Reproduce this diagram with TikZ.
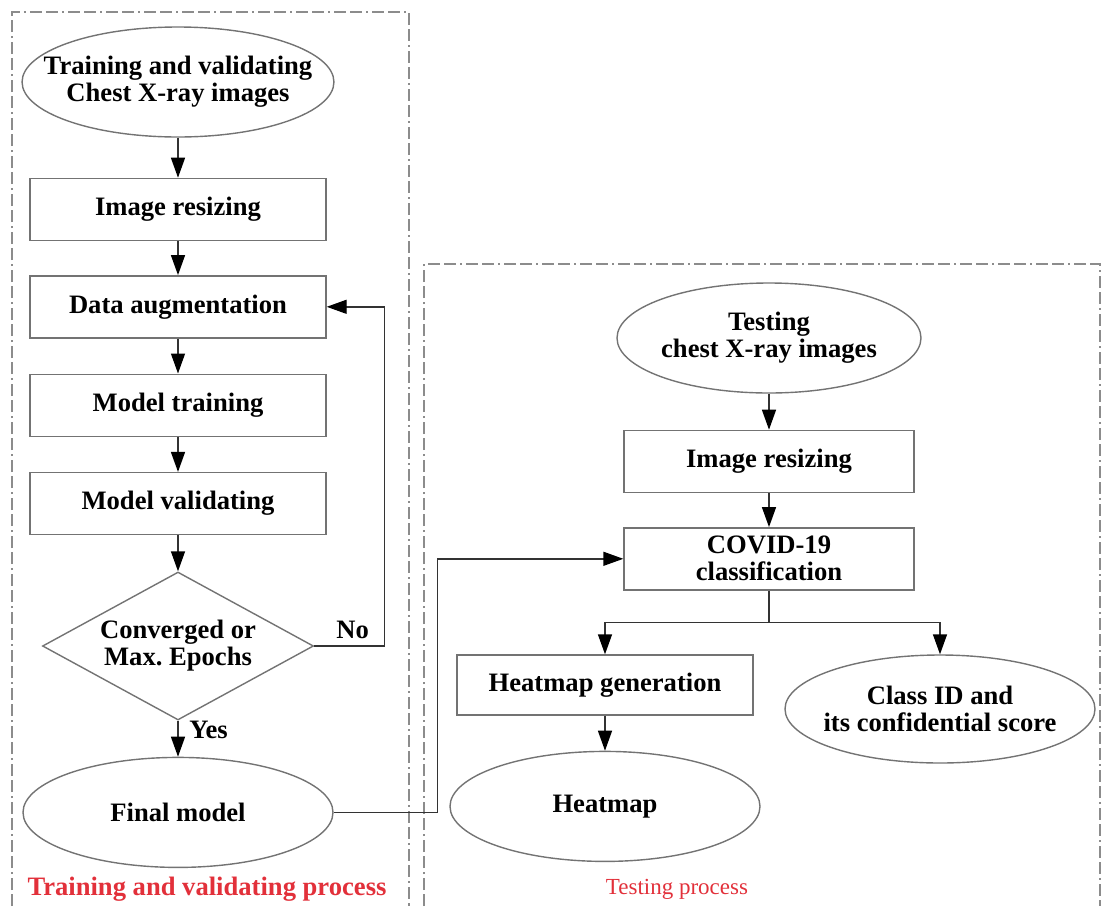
\documentclass[tikz,border=0pt]{standalone}
\usepackage{fontspec}
\setmainfont{Liberation Serif}
\usetikzlibrary{arrows.meta, positioning}
\usetikzlibrary{shapes.geometric}
\definecolor{labelred}{RGB}{226,48,58}
\tikzset{
  start_end/.style={
      ellipse, draw=black!55, line width=0.7pt,
      minimum width=155pt, minimum height=55pt,
      inner xsep=-12pt, inner ysep=2pt, align=center,
      font=\bfseries\fontsize{13.3}{13.5}\selectfont,
    },
  process/.style={
      rectangle, draw=black!55, line width=0.7pt,
      minimum width=148pt, minimum height=31pt,
      inner sep=0pt, align=center,
      font=\bfseries\fontsize{13.3}{13.5}\selectfont,
    },
  decision/.style={
      diamond, aspect=1.83, draw=black!55, line width=0.7pt,
      minimum width=135.5pt, minimum height=74pt,
      inner sep=0pt, align=center,
      font=\bfseries\fontsize{13.3}{13.5}\selectfont,
    },
  description/.style={
      font=\bfseries\fontsize{13.3}{13.5}\selectfont,
    },
  frame/.style={
      draw=black!45, line width=0.6pt,
      dash pattern=on 6pt off 2pt on 6pt off 2pt on 1pt off 2pt,
    },
  line/.style={draw=black!80, line width=0.7pt},
  flow/.style={line, -{Triangle[length=10pt, width=7pt, color=black]}},
}

\begin{document}
\begin{tikzpicture}[x=0.5pt, y=-0.5pt]
      \useasboundingbox (0,0) rectangle (1104,906);
      % dashed frames
      \draw[frame] (12,906) |- (409,12) -- (409,906);
      \draw[frame] (424,906) |- (1100,264) -- (1100,906);
      % training and validating
      \node[start_end] (train_img) at (178,82) {Training and validating\\Chest X-ray images};
      \node[process, below=20pt of train_img] (img_resize) {Image resizing};
      \node[process, below=17pt of img_resize] (data_aug) {Data augmentation};
      \node[process, below=17.5pt of data_aug] (model_train) {Model training};
      \node[process, below=17.5pt of model_train] (model_valid) {Model validating};
      \node[decision, below=18pt of model_valid] (check) {Converged or\\Max.\ Epochs};
      \node[start_end, below=18pt of check] (final_model) {Final model};
      \node[description, text=labelred] (train_label) at (207,889) {Training and validating process};
      % testing
      \node[start_end, minimum width=152pt] (test_img) at (769,338) {Testing\\chest X-ray images};
      \node[process, minimum width=145pt, below=18pt of test_img] (test_resize) {Image resizing};
      \node[process, minimum width=145pt, below=17pt of test_resize] (covid_cls) {COVID-19\\classification};
      \node[process, minimum height=30pt] (heat_gen) at (605,685) {Heatmap generation};
      \node[start_end, below=17.5pt of heat_gen] (heatmap) {Heatmap};
      \node[start_end, minimum height=54pt] (class_id) at (940,709) {Class ID and\\its confidential score};
      \node[text=labelred, font=\fontsize{11.5}{13}\selectfont] (test_label) at (677,889) {Testing process};
      % connectors
      \draw[flow] (train_img) -- (img_resize);
      \draw[flow] (img_resize) -- (data_aug);
      \draw[flow] (data_aug) -- (model_train);
      \draw[flow] (model_train) -- (model_valid);
      \draw[flow] (model_valid) -- (check);
      \draw[flow] (check.east) -- node[description, above, pos=0.55] {No} ++(35pt,0) |- (data_aug.east);
      \draw[flow] (check.south) -- node[description, right=2pt, pos=0.25] {Yes} (final_model.north);
      \draw[flow] (final_model.east) -- ++(52pt,0) |- (covid_cls.west);
      \draw[flow] (test_img) -- (test_resize);
      \draw[flow] (test_resize) -- (covid_cls);
      \draw[line] (covid_cls.south) -- ++(0,-16pt) coordinate (split);
      \draw[flow] (split) -| (heat_gen.north);
      \draw[flow] (split) -| (class_id.north);
      \draw[flow] (heat_gen) -- (heatmap);
    \end{tikzpicture}
\end{document}
